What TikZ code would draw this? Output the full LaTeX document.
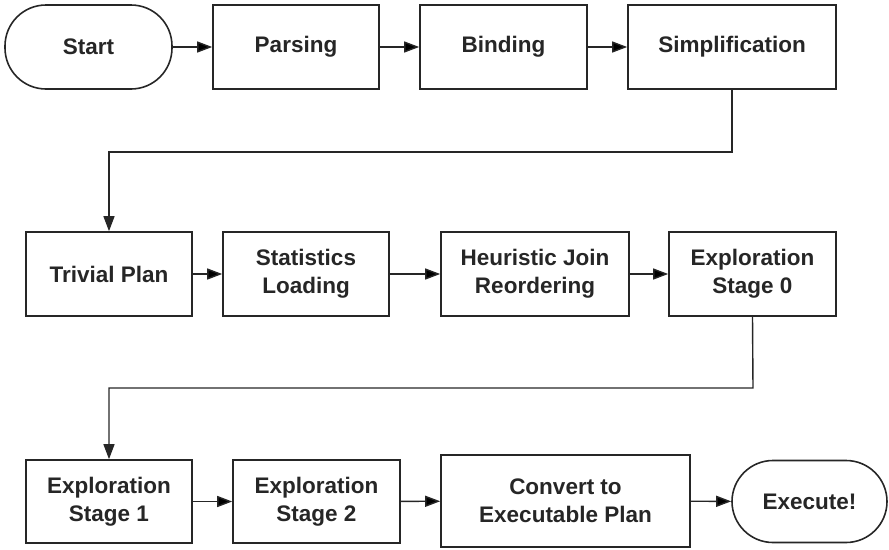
\documentclass[tikz,border=0pt]{standalone}
\usepackage{fontspec}
\setmainfont{Liberation Sans}
\usetikzlibrary{arrows.meta}
\begin{document}
\begin{tikzpicture}[x=1pt, y=-1pt,
  stage/.style={shape=rectangle, draw=black!85, line width=1.6pt, minimum height=84pt, align=center, font=\fontsize{22.5}{28}\selectfont\bfseries, text=black!85},
  term/.style={stage, rounded corners=41pt},
  flow/.style={-{Triangle[length=15pt,width=11pt]}, line width=1.4pt, draw=black!85}]
\useasboundingbox (0,0) rectangle (889,549);
\node[term, minimum width=167pt] (start) at (88.5,47) {Start};
\node[stage, minimum width=166pt] (parse) at (296,47) {Parsing};
\node[stage, minimum width=167pt] (bind) at (503.5,47) {Binding};
\node[stage, minimum width=208pt] (simp) at (732,47) {Simplification};
\node[stage, minimum width=166pt] (triv) at (109,274) {Trivial Plan};
\node[stage, minimum width=166pt] (stats) at (306,274) {Statistics\\Loading};
\node[stage, minimum width=188pt] (join) at (535,274) {Heuristic Join\\Reordering};
\node[stage, minimum width=167pt] (ex0) at (752.5,274) {Exploration\\Stage 0};
\node[stage, minimum width=166pt, minimum height=83pt] (ex1) at (109,501.5) {Exploration\\Stage 1};
\node[stage, minimum width=167pt, minimum height=83pt] (ex2) at (316.5,501.5) {Exploration\\Stage 2};
\node[stage, minimum width=249pt, minimum height=92pt] (conv) at (565.5,501) {Convert to\\Executable Plan};
\node[term, minimum width=155pt, minimum height=82pt] (exec) at (809.5,501.5) {Execute!};
\coordinate (bend1) at (732,152);
\coordinate (bend2) at (753,388);
\path [flow] (start) edge (parse);
\path [flow] (parse) edge (bind);
\path [flow] (bind) edge (simp);
\draw [flow] (simp.south) -- (bend1) -| (triv.north);
\path [flow] (triv) edge (stats);
\path [flow] (stats) edge (join);
\path [flow] (join) edge (ex0);
\draw [flow] (ex0.south) -- (bend2) -| (ex1.north);
\path [flow] (ex1) edge (ex2);
\path [flow] (ex2) edge (conv);
\path [flow] (conv) edge (exec);
\end{tikzpicture}
\end{document}
